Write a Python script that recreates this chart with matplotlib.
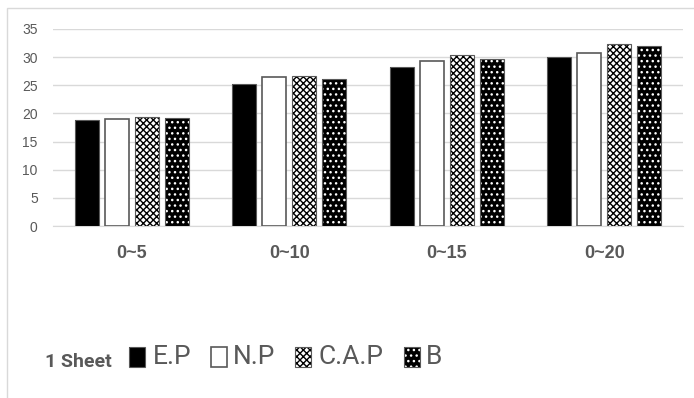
import matplotlib
matplotlib.use("Agg")
import matplotlib.pyplot as plt
from matplotlib.patches import Rectangle
import numpy as np

groups = ["0~5", "0~10", "0~15", "0~20"]
series = ["E.P", "N.P", "C.A.P", "B"]
ep = [18.8, 25.3, 28.2, 30.0]
np_vals = [19.0, 26.4, 29.4, 30.8]
cap = [19.3, 26.6, 30.4, 32.3]
b = [19.1, 26.2, 29.6, 31.9]
yticks = [0, 5, 10, 15, 20, 25, 30, 35]

gray = "#595959"
plt.rcParams["font.family"] = ["Liberation Sans", "DejaVu Sans"]
plt.rcParams["hatch.linewidth"] = 1.0

# face, hatch colour, hatch, edge width for each series
styles = [
    ("black", "black", None, 0.8),
    ("white", "white", None, 1.2),
    ("white", "black", "xxxxx", 0.8),
    ("black", "white", "...", 0.8),
]

fig = plt.figure(figsize=(6.94, 3.98), dpi=100)
ax = fig.add_axes([53 / 694, 1 - 226 / 398, 630 / 694, 197 / 398])

x = np.arange(len(groups))
w = 0.152
step = 0.19
offs = [-1.5 * step, -0.5 * step, 0.5 * step, 1.5 * step]

for vals, off, (face, hcol, hatch, lw) in zip([ep, np_vals, cap, b], offs, styles):
    ax.bar(x + off, vals, w, color=face, edgecolor=hcol, hatch=hatch, lw=0, zorder=3)
    ax.bar(x + off, vals, w, fill=False, edgecolor=gray, lw=lw, zorder=4)

ax.set_xlim(-0.5, 3.5)
ax.set_ylim(0, 35)
ax.set_yticks(yticks)
ax.yaxis.grid(True, color="#d9d9d9", lw=1, zorder=0)
ax.set_xticks(x)
ax.tick_params(axis="both", length=0, colors=gray)
ax.tick_params(axis="x", pad=14)
ax.tick_params(axis="y", pad=11, labelsize=10)
ax.set_xticklabels(groups, fontweight="bold", fontsize=13, color=gray)
for s in ["top", "right", "left"]:
    ax.spines[s].set_visible(False)
ax.spines["bottom"].set_color("#d9d9d9")

# chart area border
fig.patches.append(Rectangle((7 / 694, -0.1), 1.2, 1 - 8 / 398 + 0.1, transform=fig.transFigure,
                             fill=False, edgecolor="#d9d9d9", lw=1))

fig.text(45 / 694, 1 - 362 / 398, "1 Sheet", fontsize=14, fontweight="bold", color=gray,
         family=["Roboto", "DejaVu Sans"], va="center", ha="left")

# legend keys and labels
key_x = [129, 211, 295, 404]
text_x = [153, 233, 318, 426]
for name, kx, tx, (face, hcol, hatch, lw) in zip(series, key_x, text_x, styles):
    fig.patches.append(Rectangle((kx / 694, 1 - 367 / 398), 16 / 694, 20 / 398,
                                 transform=fig.transFigure, facecolor=face, edgecolor=hcol,
                                 hatch=hatch, lw=0))
    fig.patches.append(Rectangle((kx / 694, 1 - 367 / 398), 16 / 694, 20 / 398,
                                 transform=fig.transFigure, fill=False, edgecolor=gray, lw=lw))
    fig.text(tx / 694, 1 - 357 / 398, name, fontsize=19, color=gray,
             family=["Roboto", "DejaVu Sans"], va="center", ha="left")

fig.savefig("out.png", dpi=100)
